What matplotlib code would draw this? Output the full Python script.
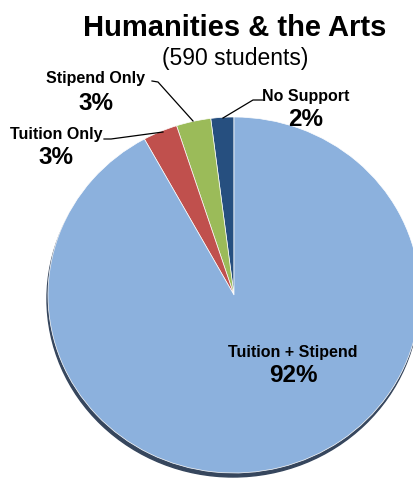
import matplotlib.pyplot as plt
from matplotlib.patches import Ellipse

plt.rcParams['font.family'] = ['Liberation Sans', 'DejaVu Sans']

categories = ['No Support', 'Stipend Only', 'Tuition Only', 'Tuition + Stipend']
shares = [2, 3, 3, 92]
colors = ['#264f7f', '#9bbb59', '#c0504d', '#8cb1dd']

W, H = 414, 485
fig = plt.figure(figsize=(W / 100, H / 100), dpi=100)

# pie sits in its own axes; box is a bit wider than tall, so the pie is slightly oval
cx, cy = 234, 296          # centre, pixels from top-left
rx, ry = 186, 178          # half width / half height in pixels
pad = 1.1
left = (cx - rx * pad) / W
bottom = (H - cy - ry * pad) / H
pie_ax = fig.add_axes([left, bottom, 2 * rx * pad / W, 2 * ry * pad / H])

# dark rim under the pie
pie_ax.add_patch(Ellipse((-1 / rx, -4 / ry), 2, 2, color='#36465d', zorder=1))
pie_ax.pie(shares, colors=colors, startangle=90, counterclock=True,
           radius=1, frame=True,
           wedgeprops=dict(edgecolor='white', linewidth=0.5, zorder=2))
pie_ax.set_aspect('auto')
pie_ax.set_xlim(-pad, pad)
pie_ax.set_ylim(-pad, pad)
pie_ax.axis('off')

# overlay for titles, labels and leader lines, in pixel units (y up)
ax = fig.add_axes([0, 0, 1, 1])
ax.set_xlim(0, W)
ax.set_ylim(0, H)
ax.axis('off')

ax.text(235, 457, 'Humanities & the Arts', ha='center', va='center',
        fontsize=21, fontweight='bold')
ax.text(235, 427, '(590 students)', ha='center', va='center', fontsize=16.5)

def label(x, y, name, pct):
    ax.text(x, y, name, ha='center', va='center', fontsize=11.5, fontweight='bold')
    ax.text(x, y - 24, f'{pct}%', ha='center', va='center', fontsize=17.5, fontweight='bold')

label(96, 406, categories[1], shares[1])
label(306, 389, categories[0], shares[0])
label(56, 351, categories[2], shares[2])
label(293, 133, categories[3], shares[3])

# leader lines
ax.plot([152, 158, 193], [403, 402, 363], color='black', lw=0.9)
ax.plot([263, 253, 223], [384, 384, 366], color='black', lw=0.9)
ax.plot([104, 111, 163], [345, 345, 352], color='black', lw=0.9)

fig.savefig('out.png', dpi=100)
